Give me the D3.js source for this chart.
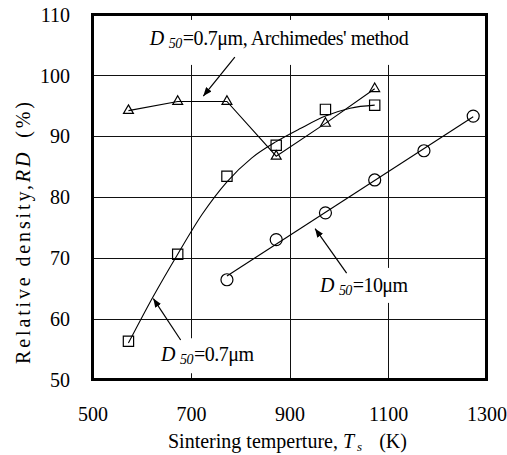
<!DOCTYPE html>
<html>
<head>
<meta charset="utf-8">
<script src="https://cdn.jsdelivr.net/npm/d3@7/dist/d3.min.js"></script>
<style>html,body{margin:0;background:#fff}</style>
</head>
<body>
<svg id="chart" width="507" height="455"></svg>
<script>
// ---- data ----
const tempsFine = [573, 673, 773, 873, 973, 1073];          // K
const archimedesRD = [94.2, 95.7, 95.7, 86.7, 92.1, 97.8];  // triangles, D50=0.7um Archimedes
const fineRD = [56.3, 70.6, 83.4, 88.5, 94.4, 95.1];        // squares, D50=0.7um
const tempsCoarse = [773, 873, 973, 1073, 1173, 1273];
const coarseRD = [66.4, 73.0, 77.4, 82.8, 87.6, 93.3];      // circles, D50=10um
const fineCurveT = [573, 623, 673, 723, 773, 823, 873, 923, 973, 1023, 1073];
const fineCurveRD = [56.0, 63.6, 70.6, 77.2, 82.5, 86.4, 89.1, 91.3, 93.3, 94.6, 95.1];
const coarseLineT = [773, 1273];
const coarseLineRD = [67.0, 93.2];
const xTicks = [500, 700, 900, 1100, 1300];
const yTicks = [50, 60, 70, 80, 90, 100, 110];
const xGrid = [700, 900, 1100];
const yGrid = [60, 70, 80, 90, 100];

const FONT = '"Liberation Serif"';
const svg = d3.select("#chart");
const pL = 92.5, pR = 486.5, pT = 14.5, pB = 379.5;
const x = d3.scaleLinear().domain([500, 1300]).range([pL, pR]);
const y = d3.scaleLinear().domain([50, 110]).range([pB, pT]);

// arrow marker
svg.append("defs").append("marker")
  .attr("id", "ah").attr("markerUnits", "userSpaceOnUse")
  .attr("viewBox", "0 0 10 8").attr("refX", 10).attr("refY", 4)
  .attr("markerWidth", 9).attr("markerHeight", 7).attr("orient", "auto")
  .append("path").attr("d", "M0,0 L10,4 L0,8 Z").attr("fill", "#000");

// grid
const grid = svg.append("g").attr("stroke", "#111").attr("stroke-width", 1);
grid.selectAll("line.h").data(yGrid).join("line").attr("class", "h")
  .attr("x1", pL).attr("x2", pR)
  .attr("y1", d => Math.round(y(d)) + 0.5).attr("y2", d => Math.round(y(d)) + 0.5);
grid.selectAll("line.v").data(xGrid).join("line").attr("class", "v")
  .attr("y1", pT).attr("y2", pB)
  .attr("x1", d => Math.round(x(d)) + 0.5).attr("x2", d => Math.round(x(d)) + 0.5);

// annotations (anchor in data units; box = pixel offsets around the anchor, len = text width)
const notes = [
  { tx: 616, ty: 105.0, main: "=0.7μm, Archimedes' method", len: 259, box: [-10, -25, 265, 20],
    ax1: 789, ay1: 103.0, ax2: 725, ay2: 96.6 },
  { tx: 962, ty: 64.4, main: "=10μm", len: 88, box: [-8, -24, 95, 11],
    ax1: 1016, ay1: 67.5, ax2: 952, ay2: 74.8 },
  { tx: 639, ty: 53.0, main: "=0.7μm", len: 93, box: [-6, -23, 99, 12],
    ax1: 679, ay1: 56.5, ax2: 623.5, ay2: 63.3 }
];
const noteG = svg.append("g");
notes.forEach(n => {
  const g = noteG.append("g");
  const ax = x(n.tx), ay = y(n.ty);
  g.append("rect").attr("fill", "#fff")
    .attr("x", ax + n.box[0]).attr("y", ay + n.box[1])
    .attr("width", n.box[2] - n.box[0]).attr("height", n.box[3] - n.box[1]);
  const t = g.append("text").attr("x", ax).attr("y", ay)
    .attr("font-family", FONT).attr("font-size", 20).attr("fill", "#000")
    .attr("textLength", n.len).attr("lengthAdjust", "spacing");
  t.append("tspan").attr("font-style", "italic").text("D");
  t.append("tspan").attr("font-style", "italic").attr("font-size", 14).attr("dx", 5).attr("dy", 3).text("50");
  t.append("tspan").attr("dy", -3).attr("dx", 1).text(n.main);
});

// data lines
const lineG = svg.append("g").attr("fill", "none").attr("stroke", "#000").attr("stroke-width", 1.1);
lineG.append("path")
  .attr("d", d3.line().x(d => x(d[0])).y(d => y(d[1]))(tempsFine.map((t, i) => [t, archimedesRD[i]])));
lineG.append("path")
  .attr("d", d3.line().curve(d3.curveMonotoneX).x(d => x(d[0])).y(d => y(d[1]))(fineCurveT.map((t, i) => [t, fineCurveRD[i]])));
lineG.append("path")
  .attr("d", d3.line().x(d => x(d[0])).y(d => y(d[1]))(coarseLineT.map((t, i) => [t, coarseLineRD[i]])));

// markers
const mk = svg.append("g").attr("fill", "none").attr("stroke", "#000").attr("stroke-width", 1.2);
mk.selectAll("path.tri").data(tempsFine.map((t, i) => [t, archimedesRD[i]])).join("path").attr("class", "tri")
  .attr("d", d3.symbol(d3.symbolTriangle2, 70))
  .attr("transform", d => `translate(${x(d[0])},${y(d[1])})`);
mk.selectAll("path.sq").data(tempsFine.map((t, i) => [t, fineRD[i]])).join("path").attr("class", "sq")
  .attr("d", d3.symbol(d3.symbolSquare2, 135))
  .attr("transform", d => `translate(${x(d[0])},${y(d[1])})`);
mk.selectAll("circle").data(tempsCoarse.map((t, i) => [t, coarseRD[i]])).join("circle")
  .attr("r", 6).attr("cx", d => x(d[0])).attr("cy", d => y(d[1]));

// arrows
const arG = svg.append("g").attr("stroke", "#000").attr("stroke-width", 1.2);
notes.forEach(n => {
  arG.append("line").attr("x1", x(n.ax1)).attr("y1", y(n.ay1)).attr("x2", x(n.ax2)).attr("y2", y(n.ay2))
    .attr("marker-end", "url(#ah)");
});

// frame
svg.append("rect").attr("x", pL).attr("y", pT).attr("width", pR - pL).attr("height", pB - pT)
  .attr("fill", "none").attr("stroke", "#000").attr("stroke-width", 3);

// axes labels
const xAxis = d3.axisBottom(x).tickValues(xTicks).tickSize(0).tickPadding(0).tickFormat(d3.format("d"));
const gx = svg.append("g").attr("transform", `translate(0,${pB})`).call(xAxis);
gx.attr("font-family", FONT).attr("font-size", 20);
gx.select(".domain").remove();
gx.selectAll("text").attr("font-family", FONT).attr("fill", "#000").attr("dy", null).attr("y", 41);

const yAxis = d3.axisLeft(y).tickValues(yTicks).tickSize(0).tickPadding(0).tickFormat(d3.format("d"));
const gy = svg.append("g").attr("transform", `translate(70,0)`).call(yAxis);
gy.attr("font-family", FONT).attr("font-size", 20);
gy.select(".domain").remove();
gy.selectAll("text").attr("font-family", FONT).attr("fill", "#000").attr("dy", "0.34em").attr("x", 0);

// axis titles
const xt = svg.append("text").attr("x", 168).attr("y", 448).attr("font-family", FONT).attr("font-size", 20)
  .attr("fill", "#000");
xt.append("tspan").text("Sintering temperture, ");
xt.append("tspan").attr("font-style", "italic").text("T");
xt.append("tspan").attr("font-style", "italic").attr("font-size", 13).attr("dx", 3).attr("dy", 3).text("s");
xt.append("tspan").attr("dy", -3).attr("dx", 17).text("(K)");

const yt = svg.append("text").attr("transform", "translate(30,233) rotate(-90)").attr("x", -131).attr("y", 0)
  .attr("font-family", FONT).attr("font-size", 20).attr("fill", "#000")
  .attr("textLength", 262).attr("lengthAdjust", "spacing");
yt.append("tspan").text("Relative density,");
yt.append("tspan").attr("font-style", "italic").text("RD");
yt.append("tspan").attr("dx", 12).text("(%)");
</script>
</body>
</html>
